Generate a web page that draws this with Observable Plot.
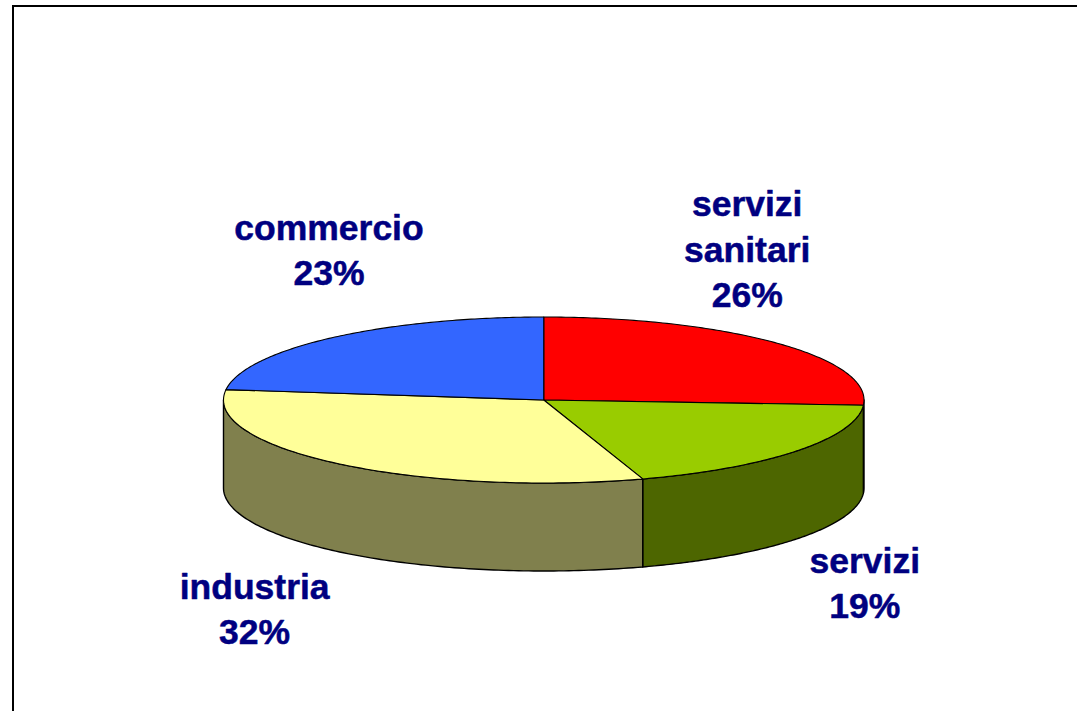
<!DOCTYPE html>
<html>
<head>
<meta charset="utf-8">
<script src="https://cdn.jsdelivr.net/npm/d3@7"></script>
<script src="https://cdn.jsdelivr.net/npm/@observablehq/plot@0.6"></script>
<style>html,body{margin:0;padding:0;background:#fff;overflow:hidden}svg{display:block}</style>
</head>
<body>
<div id="chart"></div>
<script>
const categories = ["servizi\nsanitari", "servizi", "industria", "commercio"];
const shares = [26, 19, 32, 23];
const topColors = ["#ff0000", "#99cc00", "#ffff99", "#3366ff"];
const sideColors = ["#800000", "#4d6600", "#80804d", "#1a3380"];

// label placement relative to each slice's rim midpoint (px)
const labelOffsets = [[-30, -96], [68, 130], [-85, 143], [-3, -90]];
const depth = 88 / 83; // wall height in y-scale units

const total = d3.sum(shares);
let running = 0;
const slices = shares.map((v, i) => {
  const start = running / total * 2 * Math.PI;
  running += v;
  return {i, start, end: running / total * 2 * Math.PI, name: categories[i], value: v};
});
const rim = (a, drop = 0) => ({x: Math.sin(a), y: -Math.cos(a) + drop});
const arc = (a0, a1, drop = 0) =>
  d3.range(0, 121).map(k => rim(a0 + (a1 - a0) * k / 120, drop));

const tops = slices.flatMap(s =>
  [{x: 0, y: 0}, ...arc(s.start, s.end), {x: 0, y: 0}]
    .map(p => ({...p, key: s.i, color: topColors[s.i]})));

const walls = slices.flatMap(s => {
  const a0 = Math.max(s.start, Math.PI / 2), a1 = Math.min(s.end, 3 * Math.PI / 2);
  if (a1 <= a0) return [];
  return [...arc(a0, a1), ...arc(a1, a0, depth), rim(a0)]
    .map(p => ({...p, key: s.i, color: sideColors[s.i]}));
});

const labelMarks = slices.map((s, i) => {
  const mid = rim((s.start + s.end) / 2);
  return Plot.text([{...mid, label: `${s.name}\n${s.value}%`}], {
    x: "x", y: "y", text: "label",
    dx: labelOffsets[i][0], dy: labelOffsets[i][1],
    fontFamily: "Liberation Sans", fontWeight: "bold", fontSize: 35.5,
    lineHeight: 1.28, fill: "#000080", stroke: "#000080", strokeWidth: 0.5,
    textAnchor: "middle", lineAnchor: "middle"
  });
});

const chart = Plot.plot({
  width: 1077, height: 711,
  margin: 0,
  x: {domain: [-1, 1], range: [223, 863.5], axis: null},
  y: {domain: [-1, 1], range: [316.5, 482.5], axis: null},
  color: {type: "identity"},
  style: {background: "#fff"},
  marks: [
    Plot.frame({stroke: "#000", strokeWidth: 2, insetLeft: 12.5, insetTop: 5.5, insetRight: -10, insetBottom: -10}),
    Plot.line(walls, {x: "x", y: "y", z: "key", fill: "color", stroke: "#000", strokeWidth: 1.4}),
    Plot.line(tops, {x: "x", y: "y", z: "key", fill: "color", stroke: "#000", strokeWidth: 1.1}),
    ...labelMarks
  ]
});
document.getElementById("chart").append(chart);
</script>
</body>
</html>
